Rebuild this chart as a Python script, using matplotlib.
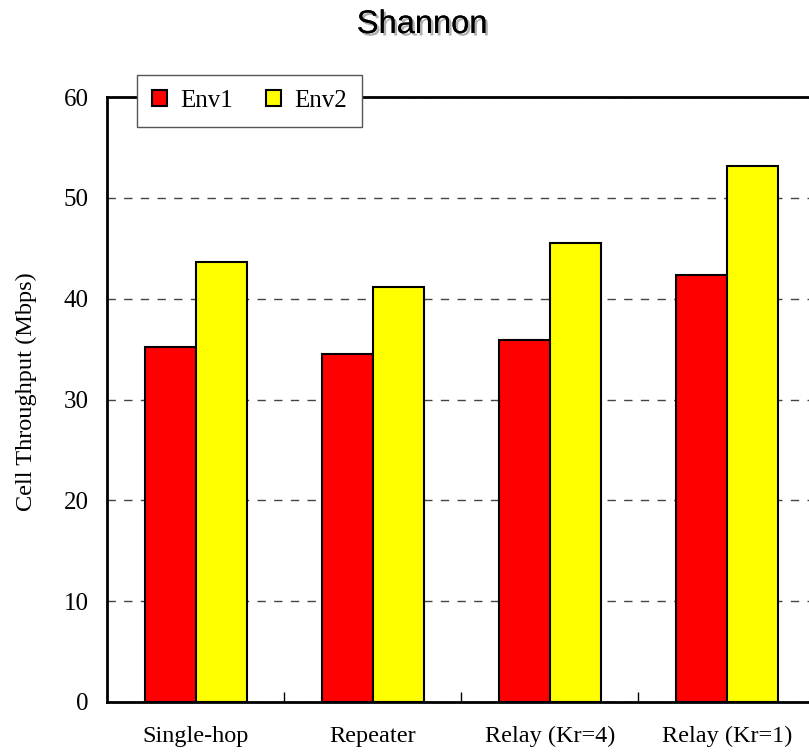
import matplotlib.pyplot as plt
import matplotlib.patheffects as pe
import numpy as np

categories = ['Single-hop', 'Repeater', 'Relay (Kr=4)', 'Relay (Kr=1)']
env1 = [35.2, 34.5, 35.9, 42.3]
env2 = [43.6, 41.2, 45.5, 53.2]

fig = plt.figure(figsize=(8.09, 7.53), dpi=100)
# plot area runs a bit past the right edge, as in the original
ax = fig.add_axes([107/809, 1 - 702/753, (815.5 - 107)/809, (702 - 97)/753])

pos = np.arange(len(categories))
w = 0.288
ax.bar(pos - w/2, env1, w, color='#ff0000', edgecolor='black', linewidth=1.5, label='Env1', zorder=3)
ax.bar(pos + w/2, env2, w, color='#ffff00', edgecolor='black', linewidth=1.5, label='Env2', zorder=3)

ax.set_xlim(-0.5, len(categories) - 0.5)
ax.set_ylim(0, 60)
ax.set_yticks(np.arange(0, 61, 10))
ax.yaxis.grid(True, linestyle=(0, (6, 6)), color='#444444', linewidth=1)
ax.set_axisbelow(True)

# category labels centred, tick marks between groups
ax.set_xticks(pos)
ax.set_xticklabels(categories, fontfamily='Liberation Serif', fontsize=17.5)
ax.tick_params(axis='x', length=0, pad=17)
ax.set_xticks(pos[1:] - 0.5, minor=True)
ax.tick_params(axis='x', which='minor', direction='in', length=7, width=1)
ax.tick_params(axis='y', length=0, pad=13, labelsize=18)
for t in ax.get_yticklabels():
    t.set_fontfamily('Liberation Serif')

ax.spines['right'].set_visible(False)
for s in ['left', 'bottom', 'top']:
    ax.spines[s].set_linewidth(2)

ax.set_ylabel('Cell Throughput (Mbps)', fontfamily='Liberation Serif', fontsize=17.5)
ax.yaxis.set_label_coords(-0.099, 0.513)

leg = ax.legend(loc='upper left', bbox_to_anchor=(0.042, 1.036), borderaxespad=0, ncol=2,
                frameon=True, fancybox=False, prop={'family': 'Liberation Serif', 'size': 18},
                handlelength=0.6, handleheight=0.6, columnspacing=1.3, handletextpad=0.55,
                borderpad=0.6)
leg.get_frame().set_edgecolor('#555555')
leg.get_frame().set_linewidth(1)
leg.get_frame().set_alpha(1)
leg.set_zorder(5)

fig.text(422/809, 1 - 33/753, 'Shannon', ha='center', va='baseline',
         fontfamily='Liberation Sans', fontsize=23.5,
         path_effects=[pe.withSimplePatchShadow(offset=(1.8, -1.8), shadow_rgbFace='#b0b0b0', alpha=1),
                       pe.Normal()])

fig.savefig('out.png', dpi=100)
